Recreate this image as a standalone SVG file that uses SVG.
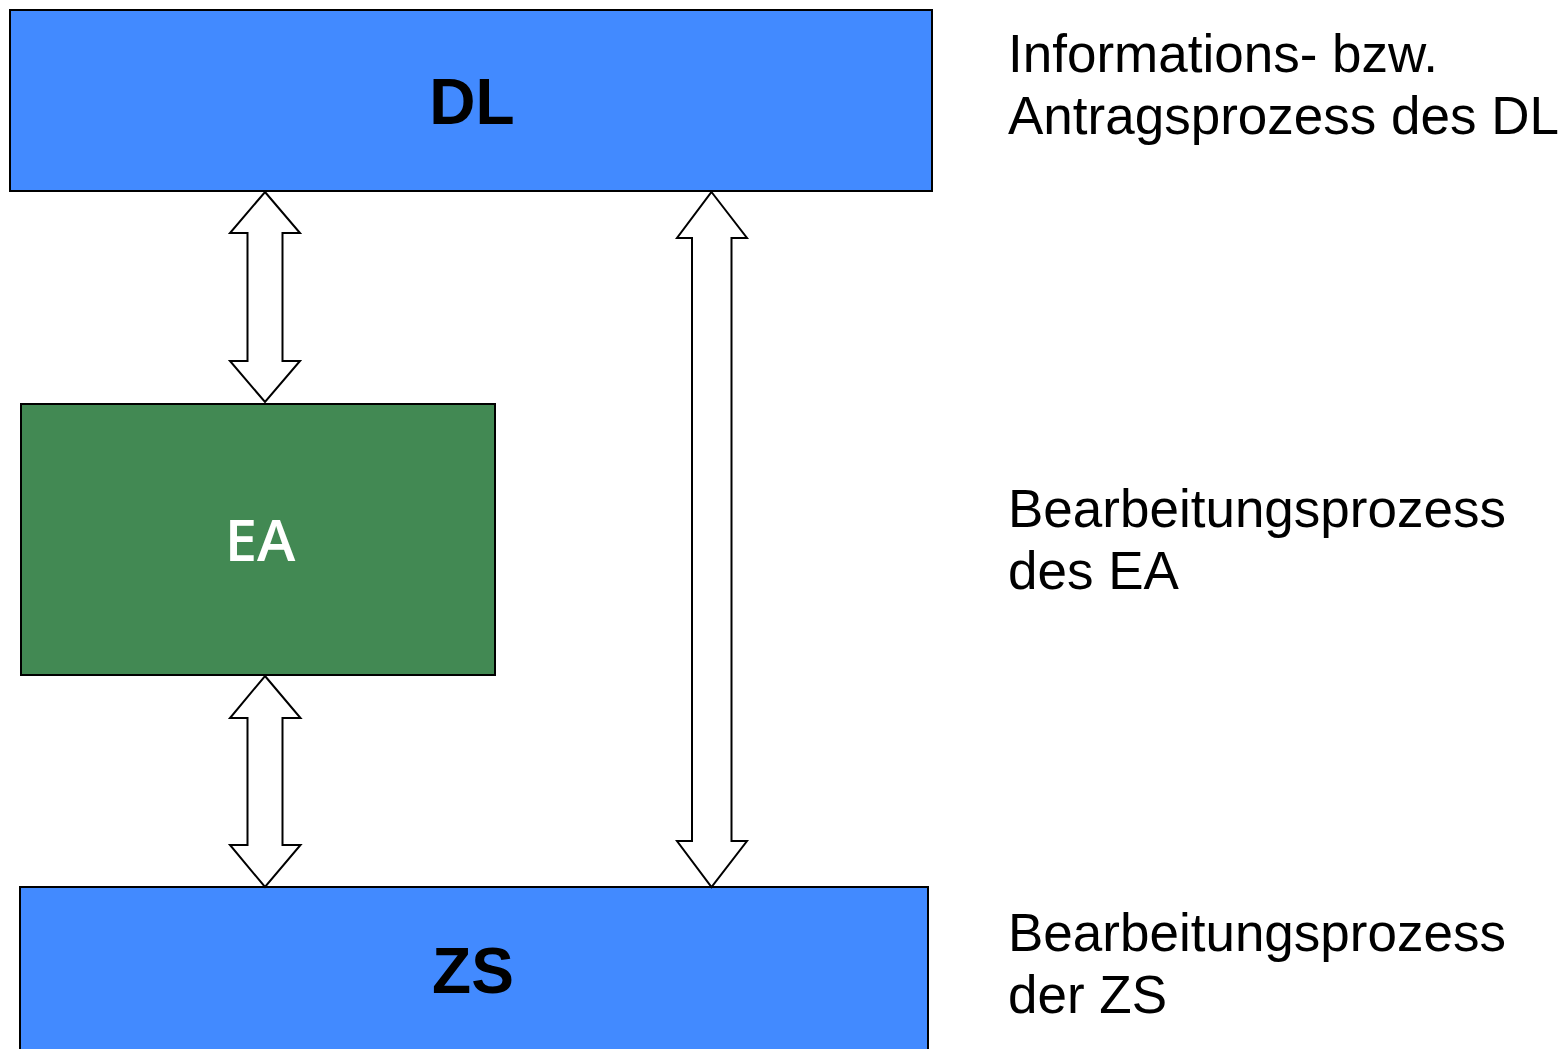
<svg xmlns="http://www.w3.org/2000/svg" width="1566" height="1049" viewBox="0 0 1566 1049">
  <style>
    .box { stroke: #000; stroke-width: 2; }
    .blue { fill: #428AFF; }
    .green { fill: #428953; }
    .title { font-family: "Liberation Sans", Arial, sans-serif; font-weight: bold; font-size: 64px; fill: #000; text-anchor: middle; }
    .title-white { font-family: "Open Sans", "Liberation Sans", sans-serif; font-weight: 600; font-size: 58px; fill: #fff; text-anchor: middle; }
    .note { font-family: "Liberation Sans", Arial, sans-serif; font-size: 53px; fill: #000; }
    .dbl { fill: #fff; stroke: #000; stroke-width: 2; stroke-linejoin: miter; }
  </style>

  <rect width="1566" height="1049" fill="#fff"/>

  <g id="node-dl">
    <rect class="box blue" x="10" y="10" width="922" height="181"/>
    <text class="title" x="472" y="124">DL</text>
  </g>

  <g id="node-ea">
    <rect class="box green" x="21" y="404" width="474" height="271"/>
    <text class="title-white" x="260" y="561">EA</text>
  </g>

  <g id="node-zs">
    <rect class="box blue" x="20" y="887" width="908" height="170"/>
    <text class="title" x="473" y="993">ZS</text>
  </g>

  <g id="connectors">
    <!-- DL <-> EA -->
    <polygon class="dbl" points="265,192 300,233 282.5,233 282.5,361 300,361 265,402 230,361 247.5,361 247.5,233 230,233"/>
    <!-- EA <-> ZS -->
    <polygon class="dbl" points="265,676 300.5,718 282.5,718 282.5,845 300.5,845 265,887 230,845 247.5,845 247.5,718 230,718"/>
    <!-- DL <-> ZS -->
    <polygon class="dbl" points="711.5,192 747,238 731.5,238 731.5,841 747,841 711.5,887 677,841 692,841 692,238 677,238"/>
  </g>

  <g id="labels">
    <text class="note" x="1008" y="72">Informations- bzw.</text>
    <text class="note" x="1008" y="133.5">Antragsprozess des DL</text>
    <text class="note" x="1008" y="527">Bearbeitungsprozess</text>
    <text class="note" x="1008" y="588.5">des EA</text>
    <text class="note" x="1008" y="951">Bearbeitungsprozess</text>
    <text class="note" x="1008" y="1013">der ZS</text>
  </g>
</svg>
